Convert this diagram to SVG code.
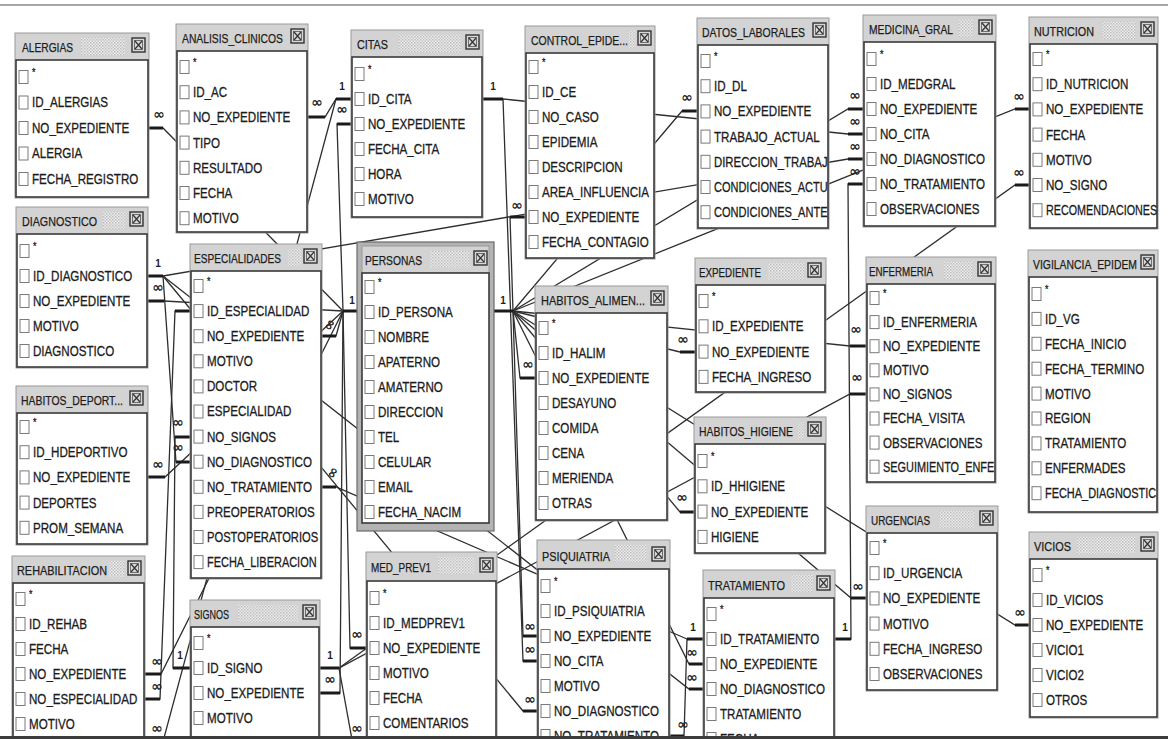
<svg xmlns="http://www.w3.org/2000/svg" width="1168" height="739" viewBox="0 0 1168 739">
<style>
.tb{fill:#d3d3d3;stroke:#9a9a9a;stroke-width:1}
.dt{fill:url(#dith)}
.tt{font-family:"Liberation Sans",Arial,sans-serif;font-size:13px;fill:#1c1c1c;stroke:#1c1c1c;stroke-width:0.25}
.bd{fill:#fff;stroke:#3a3a3a;stroke-width:1.6}
.rt{font-family:"Liberation Sans",Arial,sans-serif;font-size:14.5px;fill:#1c1c1c;stroke:#1c1c1c;stroke-width:0.3}
.st{font-size:11px}
.ln{fill:none;stroke:#2e2e2e;stroke-width:1.3}
.stub{fill:none;stroke:#1a1a1a;stroke-width:3}
.inf{font-family:"DejaVu Sans",sans-serif;font-size:14px;font-weight:bold;fill:#222;text-anchor:middle}
.one{font-family:"Liberation Sans",Arial,sans-serif;font-size:10px;font-weight:bold;fill:#222;text-anchor:middle}
</style>
<defs>
<pattern id="dith" width="3" height="3" patternUnits="userSpaceOnUse"><rect width="3" height="3" fill="#ebebeb"/><rect width="1.5" height="1.5" fill="#bdbdbd"/><rect x="1.5" y="1.5" width="1.5" height="1.5" fill="#c9c9c9"/></pattern>
<rect id="cb" x="4" y="-6.5" width="9" height="13" fill="#fff" stroke="#7a7a7a" stroke-width="1"/>
<g id="xb"><rect width="13" height="14" fill="#d8d8d8" stroke="#333" stroke-width="1.4"/><rect x="2.5" y="2.5" width="8" height="9" fill="none" stroke="#555" stroke-width="0.8"/><path d="M3,3 L10,11 M10,3 L3,11" stroke="#333" stroke-width="1.2"/></g>
</defs>
<rect width="1168" height="739" fill="#fff"/>
<line x1="0" y1="5" x2="1168" y2="5" stroke="#8a8a8a" stroke-width="1.5"/>

<g id="connectors">
<path class="ln" d="M149,128 H163 L343,311 H357"/>
<path class="ln" d="M308,117 H325 L336,99 H351"/>
<path class="ln" d="M351,99 H336 L161,749 H145"/>
<path class="ln" d="M351,124 H337 L343,311"/>
<path class="ln" d="M148,276 H163 L848,159 H863"/>
<path class="ln" d="M163,276 L523,711 H537"/>
<path class="ln" d="M163,276 L689,689 H703"/>
<path class="ln" d="M163,276 L176,462 H190"/>
<path class="ln" d="M148,301 H164 L343,311"/>
<path class="ln" d="M322,336 H336 L343,311"/>
<path class="ln" d="M190,311 H175 L160,699 H145"/>
<path class="ln" d="M145,674 H161 L343,311"/>
<path class="ln" d="M148,477 H165 L343,311"/>
<path class="ln" d="M190,668 H173 L175,437 H190"/>
<path class="ln" d="M320,668 H339 L850,394 H866"/>
<path class="ln" d="M339,668 L1015,185 H1029"/>
<path class="ln" d="M320,693 H340 L343,311"/>
<path class="ln" d="M366,648 H350 L343,311"/>
<path class="ln" d="M339,668 L353,745"/>
<path class="ln" d="M483,99 H503 L848,134 H863"/>
<path class="ln" d="M503,99 L523,661 H537"/>
<path class="ln" d="M494,311 H513 L510,217 H525"/>
<path class="ln" d="M513,311 L682,111 H697"/>
<path class="ln" d="M513,311 L848,109 H863"/>
<path class="ln" d="M513,311 L1015,109 H1029"/>
<path class="ln" d="M835,639 H851 L848,184 H863"/>
<path class="ln" d="M513,311 L850,346 H866"/>
<path class="ln" d="M513,311 L680,352 H695"/>
<path class="ln" d="M513,311 L520,378 H535"/>
<path class="ln" d="M513,311 L680,512 H694"/>
<path class="ln" d="M513,311 L851,598 H866"/>
<path class="ln" d="M513,311 L1015,625 H1029"/>
<path class="ln" d="M513,311 L523,636 H537"/>
<path class="ln" d="M513,311 L689,664 H703"/>
<path class="ln" d="M703,639 H687 L684,736 H670"/>
<path class="ln" d="M687,639 L336,487 H322"/>
<path class="stub" d="M149,128H163 M308,117H325 M336,99H351 M337,124H351 M343,311H357 M148,276H163 M148,301H164 M322,336H336 M175,311H190 M145,699H160 M145,674H161 M148,477H165 M173,668H190 M175,437H190 M176,462H190 M320,668H339 M320,693H340 M350,648H366 M483,99H503 M494,311H513 M510,217H525 M682,111H697 M848,109H863 M848,134H863 M848,159H863 M848,184H863 M1015,109H1029 M1015,185H1029 M835,639H851 M850,346H866 M850,394H866 M680,352H695 M520,378H535 M680,512H694 M851,598H866 M1015,625H1029 M523,636H537 M523,661H537 M523,711H537 M687,639H703 M689,664H703 M689,689H703 M670,736H684 M322,487H336"/>
<text class="inf" x="159" y="119">∞</text>
<text class="inf" x="317" y="107">∞</text>
<text class="one" x="342" y="90">1</text>
<text class="inf" x="342" y="114">∞</text>
<text class="one" x="493" y="90">1</text>
<text class="inf" x="517" y="210">∞</text>
<text class="inf" x="687" y="102">∞</text>
<text class="inf" x="855" y="100">∞</text>
<text class="inf" x="855" y="126">∞</text>
<text class="inf" x="855" y="151">∞</text>
<text class="inf" x="855" y="176">∞</text>
<text class="inf" x="1019" y="101">∞</text>
<text class="inf" x="1019" y="177">∞</text>
<text class="one" x="158" y="267">1</text>
<text class="inf" x="158" y="292">∞</text>
<text class="one" x="352" y="304">1</text>
<text class="one" x="503" y="304">1</text>
<text class="inf" x="330" y="329" transform="rotate(-60 330 325)">∞</text>
<text class="inf" x="528" y="369">∞</text>
<text class="inf" x="178" y="427">∞</text>
<text class="inf" x="178" y="452">∞</text>
<text class="inf" x="158" y="469">∞</text>
<text class="inf" x="683" y="344">∞</text>
<text class="inf" x="856" y="334">∞</text>
<text class="inf" x="857" y="382">∞</text>
<text class="inf" x="682" y="502">∞</text>
<text class="inf" x="858" y="591">∞</text>
<text class="one" x="845" y="631">1</text>
<text class="one" x="693" y="631">1</text>
<text class="inf" x="692" y="657">∞</text>
<text class="inf" x="692" y="682">∞</text>
<text class="inf" x="683" y="729">∞</text>
<text class="inf" x="1020" y="617">∞</text>
<text class="inf" x="530" y="631">∞</text>
<text class="inf" x="530" y="654">∞</text>
<text class="inf" x="530" y="704">∞</text>
<text class="inf" x="357" y="639">∞</text>
<text class="one" x="330" y="659">1</text>
<text class="inf" x="330" y="684">∞</text>
<text class="inf" x="357" y="733">∞</text>
<text class="inf" x="157" y="666">∞</text>
<text class="inf" x="157" y="691">∞</text>
<text class="one" x="180" y="659">1</text>
<text class="inf" x="157" y="733">∞</text>
<text class="inf" x="333" y="477" transform="rotate(-60 333 473)">∞</text>
</g>

<g id="t-alergias" transform="translate(15 33)">
<rect class="tb" width="134" height="165"/><rect class="dt" x="66" y="5" width="44" height="17"/>
<text class="tt" x="7" y="19" textLength="51" lengthAdjust="spacingAndGlyphs">ALERGIAS</text><use href="#xb" x="117" y="5"/>
<rect class="bd" x="1" y="27" width="132" height="137"/>
<use href="#cb" y="44"/><use href="#cb" y="69.5"/><use href="#cb" y="95"/><use href="#cb" y="120.5"/><use href="#cb" y="146"/>
<g class="rt" transform="translate(17 0) scale(.8 1)"><text class="st" y="43">*</text><text y="74.5">ID_ALERGIAS</text><text y="100">NO_EXPEDIENTE</text><text y="125.5">ALERGIA</text><text y="151">FECHA_REGISTRO</text></g>
</g>

<g id="t-analisis" transform="translate(176 24)">
<rect class="tb" width="132" height="209"/>
<text class="tt" x="6" y="19" textLength="101" lengthAdjust="spacingAndGlyphs">ANALISIS_CLINICOS</text><use href="#xb" x="115" y="5"/>
<rect class="bd" x="1" y="27" width="130" height="181"/>
<use href="#cb" y="43"/><use href="#cb" y="68.2"/><use href="#cb" y="93.4"/><use href="#cb" y="118.6"/><use href="#cb" y="143.8"/><use href="#cb" y="169"/><use href="#cb" y="194.2"/>
<g class="rt" transform="translate(17 0) scale(.8 1)"><text class="st" y="42">*</text><text y="73.2">ID_AC</text><text y="98.4">NO_EXPEDIENTE</text><text y="123.6">TIPO</text><text y="148.8">RESULTADO</text><text y="174">FECHA</text><text y="199.2">MOTIVO</text></g>
</g>

<g id="t-citas" transform="translate(351 30)">
<rect class="tb" width="132" height="188"/><rect class="dt" x="48" y="5" width="62" height="17"/>
<text class="tt" x="6" y="19" textLength="31" lengthAdjust="spacingAndGlyphs">CITAS</text><use href="#xb" x="115" y="5"/>
<rect class="bd" x="1" y="27" width="130" height="160"/>
<use href="#cb" y="44"/><use href="#cb" y="69"/><use href="#cb" y="94"/><use href="#cb" y="119"/><use href="#cb" y="144"/><use href="#cb" y="169"/>
<g class="rt" transform="translate(17 0) scale(.8 1)"><text class="st" y="43">*</text><text y="74">ID_CITA</text><text y="99">NO_EXPEDIENTE</text><text y="124">FECHA_CITA</text><text y="149">HORA</text><text y="174">MOTIVO</text></g>
</g>

<g id="t-control-epide" transform="translate(525 26)">
<rect class="tb" width="130" height="233"/><rect class="dt" x="104" y="5" width="6" height="17"/>
<text class="tt" x="6" y="19" textLength="97" lengthAdjust="spacingAndGlyphs">CONTROL_EPIDE...</text><use href="#xb" x="113" y="5"/>
<rect class="bd" x="1" y="27" width="128" height="205"/>
<use href="#cb" y="41"/><use href="#cb" y="66"/><use href="#cb" y="91"/><use href="#cb" y="116"/><use href="#cb" y="141"/><use href="#cb" y="166"/><use href="#cb" y="191"/><use href="#cb" y="216"/>
<g class="rt" transform="translate(17 0) scale(.8 1)"><text class="st" y="40">*</text><text y="71">ID_CE</text><text y="96">NO_CASO</text><text y="121">EPIDEMIA</text><text y="146">DESCRIPCION</text><text y="171">AREA_INFLUENCIA</text><text y="196">NO_EXPEDIENTE</text><text y="221">FECHA_CONTAGIO</text></g>
</g>

<g id="t-datos-laborales" transform="translate(697 18)">
<rect class="tb" width="132" height="211"/>
<text class="tt" x="5" y="19" textLength="103" lengthAdjust="spacingAndGlyphs">DATOS_LABORALES</text><use href="#xb" x="116" y="5"/>
<rect class="bd" x="1" y="27" width="130" height="183"/>
<use href="#cb" y="43"/><use href="#cb" y="68.2"/><use href="#cb" y="93.4"/><use href="#cb" y="118.6"/><use href="#cb" y="143.8"/><use href="#cb" y="169"/><use href="#cb" y="194.2"/>
<g class="rt" transform="translate(17 0) scale(.8 1)"><text class="st" y="42">*</text><text y="73.2">ID_DL</text><text y="98.4">NO_EXPEDIENTE</text><text y="123.6">TRABAJO_ACTUAL</text><text y="148.8" textLength="142" lengthAdjust="spacingAndGlyphs">DIRECCION_TRABAJ</text><text y="174" textLength="142" lengthAdjust="spacingAndGlyphs">CONDICIONES_ACTU</text><text y="199.2" textLength="142" lengthAdjust="spacingAndGlyphs">CONDICIONES_ANTE</text></g>
</g>

<g id="t-medicina-gral" transform="translate(863 15)">
<rect class="tb" width="133" height="212"/><rect class="dt" x="96" y="5" width="14" height="17"/>
<text class="tt" x="6" y="19" textLength="84" lengthAdjust="spacingAndGlyphs">MEDICINA_GRAL</text><use href="#xb" x="116" y="5"/>
<rect class="bd" x="1" y="27" width="131" height="184"/>
<use href="#cb" y="44"/><use href="#cb" y="69"/><use href="#cb" y="94"/><use href="#cb" y="119"/><use href="#cb" y="144"/><use href="#cb" y="169"/><use href="#cb" y="194"/>
<g class="rt" transform="translate(17 0) scale(.8 1)"><text class="st" y="43">*</text><text y="74">ID_MEDGRAL</text><text y="99">NO_EXPEDIENTE</text><text y="124">NO_CITA</text><text y="149">NO_DIAGNOSTICO</text><text y="174">NO_TRATAMIENTO</text><text y="199">OBSERVACIONES</text></g>
</g>

<g id="t-nutricion" transform="translate(1029 17)">
<rect class="tb" width="129" height="212"/><rect class="dt" x="74" y="5" width="32" height="17"/>
<text class="tt" x="5" y="19" textLength="60" lengthAdjust="spacingAndGlyphs">NUTRICION</text><use href="#xb" x="112" y="5"/>
<rect class="bd" x="1" y="27" width="127" height="184"/>
<use href="#cb" y="42"/><use href="#cb" y="67.2"/><use href="#cb" y="92.4"/><use href="#cb" y="117.6"/><use href="#cb" y="142.8"/><use href="#cb" y="168"/><use href="#cb" y="193.2"/>
<g class="rt" transform="translate(17 0) scale(.8 1)"><text class="st" y="41">*</text><text y="72.2">ID_NUTRICION</text><text y="97.4">NO_EXPEDIENTE</text><text y="122.6">FECHA</text><text y="147.8">MOTIVO</text><text y="173">NO_SIGNO</text><text y="198.2" textLength="139" lengthAdjust="spacingAndGlyphs">RECOMENDACIONES</text></g>
</g>

<g id="t-diagnostico" transform="translate(16 207)">
<rect class="tb" width="132" height="161"/><rect class="dt" x="87" y="5" width="22" height="17"/>
<text class="tt" x="6" y="19" textLength="75" lengthAdjust="spacingAndGlyphs">DIAGNOSTICO</text><use href="#xb" x="114" y="5"/>
<rect class="bd" x="1" y="27" width="130" height="133"/>
<use href="#cb" y="44"/><use href="#cb" y="69"/><use href="#cb" y="94"/><use href="#cb" y="119"/><use href="#cb" y="144"/>
<g class="rt" transform="translate(17 0) scale(.8 1)"><text class="st" y="43">*</text><text y="74">ID_DIAGNOSTICO</text><text y="99">NO_EXPEDIENTE</text><text y="124">MOTIVO</text><text y="149">DIAGNOSTICO</text></g>
</g>

<g id="t-habitos-deport" transform="translate(16 386)">
<rect class="tb" width="132" height="159"/>
<text class="tt" x="5" y="19" textLength="102" lengthAdjust="spacingAndGlyphs">HABITOS_DEPORT...</text><use href="#xb" x="114" y="5"/>
<rect class="bd" x="1" y="27" width="130" height="131"/>
<use href="#cb" y="41"/><use href="#cb" y="66.2"/><use href="#cb" y="91.4"/><use href="#cb" y="116.6"/><use href="#cb" y="141.8"/>
<g class="rt" transform="translate(17 0) scale(.8 1)"><text class="st" y="40">*</text><text y="71.2">ID_HDEPORTIVO</text><text y="96.4">NO_EXPEDIENTE</text><text y="121.6">DEPORTES</text><text y="146.8">PROM_SEMANA</text></g>
</g>

<g id="t-rehabilitacion" transform="translate(12 556)">
<rect class="tb" width="133" height="220"/><rect class="dt" x="97" y="5" width="15" height="17"/>
<text class="tt" x="5" y="19" textLength="90" lengthAdjust="spacingAndGlyphs">REHABILITACION</text><use href="#xb" x="116" y="5"/>
<rect class="bd" x="1" y="27" width="131" height="200"/>
<use href="#cb" y="43"/><use href="#cb" y="68"/><use href="#cb" y="93"/><use href="#cb" y="118"/><use href="#cb" y="143"/><use href="#cb" y="168"/>
<g class="rt" transform="translate(17 0) scale(.8 1)"><text class="st" y="42">*</text><text y="73">ID_REHAB</text><text y="98">FECHA</text><text y="123">NO_EXPEDIENTE</text><text y="148">NO_ESPECIALIDAD</text><text y="173">MOTIVO</text></g>
</g>

<g id="t-especialidades" transform="translate(190 244)">
<rect class="tb" width="132" height="335"/><rect class="dt" x="98" y="5" width="13" height="17"/>
<text class="tt" x="4" y="19" textLength="87" lengthAdjust="spacingAndGlyphs">ESPECIALIDADES</text><use href="#xb" x="114" y="5"/>
<rect class="bd" x="1" y="27" width="130" height="307"/>
<use href="#cb" y="42"/><use href="#cb" y="67.1"/><use href="#cb" y="92.2"/><use href="#cb" y="117.3"/><use href="#cb" y="142.4"/><use href="#cb" y="167.5"/><use href="#cb" y="192.6"/><use href="#cb" y="217.7"/><use href="#cb" y="242.8"/><use href="#cb" y="267.9"/><use href="#cb" y="293"/><use href="#cb" y="318.1"/>
<g class="rt" transform="translate(17 0) scale(.8 1)"><text class="st" y="41">*</text><text y="72.1">ID_ESPECIALIDAD</text><text y="97.2">NO_EXPEDIENTE</text><text y="122.3">MOTIVO</text><text y="147.4">DOCTOR</text><text y="172.5">ESPECIALIDAD</text><text y="197.6">NO_SIGNOS</text><text y="222.7">NO_DIAGNOSTICO</text><text y="247.8">NO_TRATAMIENTO</text><text y="272.9">PREOPERATORIOS</text><text y="298" textLength="139" lengthAdjust="spacingAndGlyphs">POSTOPERATORIOS</text><text y="323.1" textLength="137" lengthAdjust="spacingAndGlyphs">FECHA_LIBERACION</text></g>
</g>

<g id="t-signos" transform="translate(190 600)">
<rect class="tb" width="130" height="220"/><rect class="dt" x="48" y="5" width="60" height="17"/>
<text class="tt" x="4" y="19" textLength="35" lengthAdjust="spacingAndGlyphs">SIGNOS</text><use href="#xb" x="113" y="5"/>
<rect class="bd" x="1" y="27" width="128" height="200"/>
<use href="#cb" y="43"/><use href="#cb" y="68"/><use href="#cb" y="93"/><use href="#cb" y="118"/><use href="#cb" y="143"/>
<g class="rt" transform="translate(17 0) scale(.8 1)"><text class="st" y="42">*</text><text y="73">ID_SIGNO</text><text y="98">NO_EXPEDIENTE</text><text y="123">MOTIVO</text></g>
</g>

<g id="t-personas" transform="translate(357 242)">
<rect width="137" height="289" fill="#b3b3b3" stroke="#6a6a6a" stroke-width="1.2"/>
<rect x="5" y="4" width="127" height="27" fill="#d3d3d3" stroke="#9a9a9a"/><rect class="dt" x="73" y="9" width="40" height="17"/>
<text class="tt" x="8" y="23" textLength="57" lengthAdjust="spacingAndGlyphs">PERSONAS</text><use href="#xb" x="117" y="9"/>
<rect class="bd" x="5" y="31" width="127" height="250"/>
<use href="#cb" x="4" y="45"/><use href="#cb" x="4" y="70"/><use href="#cb" x="4" y="95"/><use href="#cb" x="4" y="120"/><use href="#cb" x="4" y="145"/><use href="#cb" x="4" y="170"/><use href="#cb" x="4" y="195"/><use href="#cb" x="4" y="220"/><use href="#cb" x="4" y="245"/><use href="#cb" x="4" y="270"/>
<g class="rt" transform="translate(21 0) scale(.8 1)"><text class="st" y="44">*</text><text y="75">ID_PERSONA</text><text y="100">NOMBRE</text><text y="125">APATERNO</text><text y="150">AMATERNO</text><text y="175">DIRECCION</text><text y="200">TEL</text><text y="225">CELULAR</text><text y="250">EMAIL</text><text y="275">FECHA_NACIM</text></g>
</g>

<g id="t-habitos-alimen" transform="translate(535 286)">
<rect class="tb" width="133" height="235"/>
<text class="tt" x="6" y="19" textLength="104" lengthAdjust="spacingAndGlyphs">HABITOS_ALIMEN...</text><use href="#xb" x="116" y="5"/>
<rect class="bd" x="1" y="27" width="131" height="207"/>
<use href="#cb" y="42"/><use href="#cb" y="67"/><use href="#cb" y="92"/><use href="#cb" y="117"/><use href="#cb" y="142"/><use href="#cb" y="167"/><use href="#cb" y="192"/><use href="#cb" y="217"/>
<g class="rt" transform="translate(17 0) scale(.8 1)"><text class="st" y="41">*</text><text y="72">ID_HALIM</text><text y="97">NO_EXPEDIENTE</text><text y="122">DESAYUNO</text><text y="147">COMIDA</text><text y="172">CENA</text><text y="197">MERIENDA</text><text y="222">OTRAS</text></g>
</g>

<g id="t-expediente" transform="translate(695 258)">
<rect class="tb" width="131" height="135"/><rect class="dt" x="73" y="5" width="36" height="17"/>
<text class="tt" x="4" y="19" textLength="62" lengthAdjust="spacingAndGlyphs">EXPEDIENTE</text><use href="#xb" x="113" y="5"/>
<rect class="bd" x="1" y="27" width="129" height="107"/>
<use href="#cb" y="43"/><use href="#cb" y="68.3"/><use href="#cb" y="93.6"/><use href="#cb" y="118.9"/>
<g class="rt" transform="translate(17 0) scale(.8 1)"><text class="st" y="42">*</text><text y="73.3">ID_EXPEDIENTE</text><text y="98.6">NO_EXPEDIENTE</text><text y="123.9">FECHA_INGRESO</text></g>
</g>

<g id="t-habitos-higiene" transform="translate(694 417)">
<rect class="tb" width="132" height="137"/><rect class="dt" x="104" y="5" width="6" height="17"/>
<text class="tt" x="5" y="19" textLength="94" lengthAdjust="spacingAndGlyphs">HABITOS_HIGIENE</text><use href="#xb" x="114" y="5"/>
<rect class="bd" x="1" y="27" width="130" height="109"/>
<use href="#cb" y="44"/><use href="#cb" y="69.3"/><use href="#cb" y="94.6"/><use href="#cb" y="119.9"/>
<g class="rt" transform="translate(17 0) scale(.8 1)"><text class="st" y="43">*</text><text y="74.3">ID_HHIGIENE</text><text y="99.6">NO_EXPEDIENTE</text><text y="124.9">HIGIENE</text></g>
</g>

<g id="t-enfermeria" transform="translate(866 257)">
<rect class="tb" width="130" height="226"/><rect class="dt" x="78" y="5" width="28" height="17"/>
<text class="tt" x="3" y="19" textLength="64" lengthAdjust="spacingAndGlyphs">ENFERMERIA</text><use href="#xb" x="112" y="5"/>
<rect class="bd" x="1" y="27" width="128" height="198"/>
<use href="#cb" y="41"/><use href="#cb" y="65.1"/><use href="#cb" y="89.2"/><use href="#cb" y="113.3"/><use href="#cb" y="137.4"/><use href="#cb" y="161.5"/><use href="#cb" y="185.6"/><use href="#cb" y="209.7"/>
<g class="rt" transform="translate(17 0) scale(.8 1)"><text class="st" y="40">*</text><text y="70.1">ID_ENFERMERIA</text><text y="94.2">NO_EXPEDIENTE</text><text y="118.3">MOTIVO</text><text y="142.4">NO_SIGNOS</text><text y="166.5">FECHA_VISITA</text><text y="190.6">OBSERVACIONES</text><text y="214.7" textLength="139" lengthAdjust="spacingAndGlyphs">SEGUIMIENTO_ENFE</text></g>
</g>

<g id="t-vigilancia-epidem" transform="translate(1028 250)">
<rect class="tb" width="130" height="263"/>
<text class="tt" x="5" y="19" textLength="104" lengthAdjust="spacingAndGlyphs">VIGILANCIA_EPIDEM</text><use href="#xb" x="113" y="5"/>
<rect class="bd" x="1" y="27" width="128" height="235"/>
<use href="#cb" y="44"/><use href="#cb" y="68.9"/><use href="#cb" y="93.8"/><use href="#cb" y="118.7"/><use href="#cb" y="143.6"/><use href="#cb" y="168.5"/><use href="#cb" y="193.4"/><use href="#cb" y="218.3"/><use href="#cb" y="243.2"/>
<g class="rt" transform="translate(17 0) scale(.8 1)"><text class="st" y="43">*</text><text y="73.9">ID_VG</text><text y="98.8">FECHA_INICIO</text><text y="123.7">FECHA_TERMINO</text><text y="148.6">MOTIVO</text><text y="173.5">REGION</text><text y="198.4">TRATAMIENTO</text><text y="223.3">ENFERMADES</text><text y="248.2" textLength="139" lengthAdjust="spacingAndGlyphs">FECHA_DIAGNOSTIC</text></g>
</g>

<g id="t-urgencias" transform="translate(866 506)">
<rect class="tb" width="132" height="185"/><rect class="dt" x="74" y="5" width="34" height="17"/>
<text class="tt" x="5" y="19" textLength="59" lengthAdjust="spacingAndGlyphs">URGENCIAS</text><use href="#xb" x="114" y="5"/>
<rect class="bd" x="1" y="27" width="130" height="157"/>
<use href="#cb" y="42"/><use href="#cb" y="67.2"/><use href="#cb" y="92.4"/><use href="#cb" y="117.6"/><use href="#cb" y="142.8"/><use href="#cb" y="168"/>
<g class="rt" transform="translate(17 0) scale(.8 1)"><text class="st" y="41">*</text><text y="72.2">ID_URGENCIA</text><text y="97.4">NO_EXPEDIENTE</text><text y="122.6">MOTIVO</text><text y="147.8">FECHA_INGRESO</text><text y="173">OBSERVACIONES</text></g>
</g>

<g id="t-vicios" transform="translate(1029 532)">
<rect class="tb" width="129" height="186"/><rect class="dt" x="48" y="5" width="58" height="17"/>
<text class="tt" x="5" y="19" textLength="37" lengthAdjust="spacingAndGlyphs">VICIOS</text><use href="#xb" x="112" y="5"/>
<rect class="bd" x="1" y="27" width="127" height="158"/>
<use href="#cb" y="43"/><use href="#cb" y="68"/><use href="#cb" y="93"/><use href="#cb" y="118"/><use href="#cb" y="143"/><use href="#cb" y="168"/>
<g class="rt" transform="translate(17 0) scale(.8 1)"><text class="st" y="42">*</text><text y="73">ID_VICIOS</text><text y="98">NO_EXPEDIENTE</text><text y="123">VICIO1</text><text y="148">VICIO2</text><text y="173">OTROS</text></g>
</g>

<g id="t-med-prev1" transform="translate(366 552)">
<rect class="tb" width="131" height="220"/><rect class="dt" x="72" y="5" width="36" height="17"/>
<text class="tt" x="5" y="20" textLength="60" lengthAdjust="spacingAndGlyphs">MED_PREV1</text><use href="#xb" x="114" y="6"/>
<rect class="bd" x="1" y="29" width="129" height="200"/>
<use href="#cb" y="46"/><use href="#cb" y="71"/><use href="#cb" y="96"/><use href="#cb" y="121"/><use href="#cb" y="146"/><use href="#cb" y="171"/>
<g class="rt" transform="translate(17 0) scale(.8 1)"><text class="st" y="45">*</text><text y="76">ID_MEDPREV1</text><text y="101">NO_EXPEDIENTE</text><text y="126">MOTIVO</text><text y="151">FECHA</text><text y="176">COMENTARIOS</text></g>
</g>

<g id="t-psiquiatria" transform="translate(537 540)">
<rect class="tb" width="133" height="220"/><rect class="dt" x="78" y="5" width="32" height="17"/>
<text class="tt" x="5" y="21" textLength="68" lengthAdjust="spacingAndGlyphs">PSIQUIATRIA</text><use href="#xb" x="115" y="7"/>
<rect class="bd" x="1" y="29" width="131" height="200"/>
<use href="#cb" y="46"/><use href="#cb" y="71"/><use href="#cb" y="96"/><use href="#cb" y="121"/><use href="#cb" y="146"/><use href="#cb" y="171"/><use href="#cb" y="196"/>
<g class="rt" transform="translate(17 0) scale(.8 1)"><text class="st" y="45">*</text><text y="76">ID_PSIQUIATRIA</text><text y="101">NO_EXPEDIENTE</text><text y="126">NO_CITA</text><text y="151">MOTIVO</text><text y="176">NO_DIAGNOSTICO</text><text y="201">NO_TRATAMIENTO</text></g>
</g>

<g id="t-tratamiento" transform="translate(703 570)">
<rect class="tb" width="132" height="220"/><rect class="dt" x="88" y="5" width="22" height="17"/>
<text class="tt" x="5" y="20" textLength="77" lengthAdjust="spacingAndGlyphs">TRATAMIENTO</text><use href="#xb" x="114" y="6"/>
<rect class="bd" x="1" y="28" width="130" height="200"/>
<use href="#cb" y="44"/><use href="#cb" y="69"/><use href="#cb" y="94"/><use href="#cb" y="119"/><use href="#cb" y="144"/><use href="#cb" y="169"/>
<g class="rt" transform="translate(17 0) scale(.8 1)"><text class="st" y="43">*</text><text y="74">ID_TRATAMIENTO</text><text y="99">NO_EXPEDIENTE</text><text y="124">NO_DIAGNOSTICO</text><text y="149">TRATAMIENTO</text><text y="174">FECHA</text></g>
</g>

<rect x="0" y="736" width="1168" height="3" fill="#3c3c3c"/>
</svg>
